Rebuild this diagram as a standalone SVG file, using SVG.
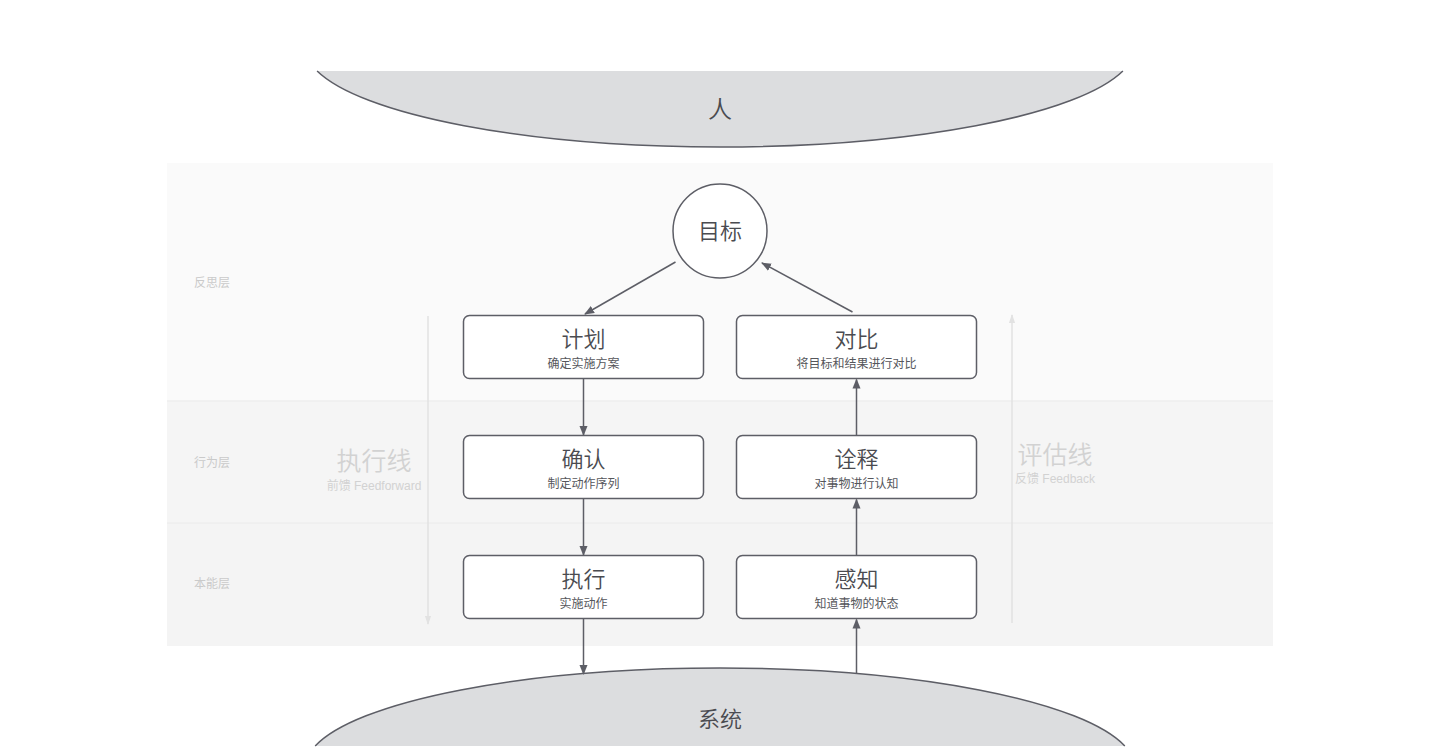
<svg xmlns="http://www.w3.org/2000/svg" width="1440" height="754" viewBox="0 0 1440 754">
<defs>
<style>
.cjk{font-family:"Noto Sans CJK SC","Noto Sans",sans-serif;text-anchor:middle}
.title{font-size:22px;fill:#4a4b50;font-weight:350}
.sub{font-size:12px;fill:#55565b}
.layer{font-size:12px;fill:#cacaca;font-family:"Noto Sans CJK SC",sans-serif}
.line-t{font-size:25px;fill:#d2d2d2;font-weight:350}
.line-s{font-size:12px;fill:#d2d2d2;font-family:"Liberation Sans","Noto Sans CJK SC",sans-serif;text-anchor:middle}
.box{fill:#ffffff;stroke:#5d5e66;stroke-width:1.5}
.conn{stroke:#5d5e66;stroke-width:1.5;fill:none}
.guide{stroke:#e2e2e2;stroke-width:1.5;fill:none}
.blob{fill:#dcdddf}
.blob-edge{fill:none;stroke:#5d5e66;stroke-width:1.5}
</style>
<marker id="ah" viewBox="0 0 10 10" refX="9" refY="5" markerWidth="10" markerHeight="10" markerUnits="userSpaceOnUse" orient="auto">
<path d="M0,1 L10,5 L0,9 Z" fill="#5d5e66"/>
</marker>
<marker id="ahl" viewBox="0 0 10 10" refX="9" refY="5" markerWidth="9" markerHeight="9" markerUnits="userSpaceOnUse" orient="auto">
<path d="M0,1.5 L10,5 L0,8.5 Z" fill="#e2e2e2"/>
</marker>
</defs>

<g id="bands">
<rect x="167" y="163" width="1106" height="238" fill="#fafafa"/>
<rect x="167" y="401" width="1106" height="122" fill="#f5f5f5"/>
<rect x="167" y="523" width="1106" height="123" fill="#f4f4f4"/>
<line x1="167" y1="401" x2="1273" y2="401" stroke="#eeeeee" stroke-width="1.5"/>
<line x1="167" y1="523" x2="1273" y2="523" stroke="#eeeeee" stroke-width="1.5"/>
<text class="layer" x="194" y="287">反思层</text>
<text class="layer" x="194" y="467">行为层</text>
<text class="layer" x="194" y="588">本能层</text>
</g>

<g id="feedforward">
<line class="guide" x1="428" y1="316" x2="428" y2="624" marker-end="url(#ahl)"/>
<text class="cjk line-t" x="374" y="470">执行线</text>
<text class="line-s" x="374" y="490">前馈 Feedforward</text>
</g>

<g id="feedback">
<line class="guide" x1="1012" y1="623" x2="1012" y2="315" marker-end="url(#ahl)"/>
<text class="cjk line-t" x="1055" y="464">评估线</text>
<text class="line-s" x="1055" y="483">反馈 Feedback</text>
</g>

<g id="human">
<path class="blob" d="M317.1 71 A415 100 0 0 0 1122.9 71 Z"/>
<path class="blob-edge" d="M317.1 71 A415 100 0 0 0 1122.9 71"/>
<text class="cjk" x="720" y="118" font-size="24" font-weight="350" fill="#4a4b50">人</text>
</g>

<g id="system">
<path class="blob" d="M315.2 746 A415 100 0 0 1 1124.8 746 Z"/>
<path class="blob-edge" d="M315.2 746 A415 100 0 0 1 1124.8 746"/>
<text class="cjk" x="720" y="727" font-size="22" font-weight="350" fill="#4a4b50">系统</text>
</g>

<g id="goal">
<circle cx="720" cy="231" r="47" class="box"/>
<text class="cjk title" x="720" y="239" font-size="23">目标</text>
</g>

<g id="plan">
<rect class="box" x="463.5" y="315.5" width="240" height="63" rx="6"/>
<text class="cjk title" x="583.5" y="347">计划</text>
<text class="cjk sub" x="583.5" y="368">确定实施方案</text>
</g>

<g id="confirm">
<rect class="box" x="463.5" y="435.5" width="240" height="63" rx="6"/>
<text class="cjk title" x="583.5" y="467">确认</text>
<text class="cjk sub" x="583.5" y="488">制定动作序列</text>
</g>

<g id="execute">
<rect class="box" x="463.5" y="555.5" width="240" height="63" rx="6"/>
<text class="cjk title" x="583.5" y="587">执行</text>
<text class="cjk sub" x="583.5" y="608">实施动作</text>
</g>

<g id="compare">
<rect class="box" x="736.5" y="315.5" width="240" height="63" rx="6"/>
<text class="cjk title" x="856.5" y="347">对比</text>
<text class="cjk sub" x="856.5" y="368">将目标和结果进行对比</text>
</g>

<g id="interpret">
<rect class="box" x="736.5" y="435.5" width="240" height="63" rx="6"/>
<text class="cjk title" x="856.5" y="467">诠释</text>
<text class="cjk sub" x="856.5" y="488">对事物进行认知</text>
</g>

<g id="perceive">
<rect class="box" x="736.5" y="555.5" width="240" height="63" rx="6"/>
<text class="cjk title" x="856.5" y="587">感知</text>
<text class="cjk sub" x="856.5" y="608">知道事物的状态</text>
</g>

<g id="connectors">
<line class="conn" x1="675.5" y1="262" x2="585" y2="314" marker-end="url(#ah)"/>
<line class="conn" x1="852.5" y1="312" x2="762" y2="263" marker-end="url(#ah)"/>
<line class="conn" x1="583.5" y1="379" x2="583.5" y2="435" marker-end="url(#ah)"/>
<line class="conn" x1="583.5" y1="499" x2="583.5" y2="555" marker-end="url(#ah)"/>
<line class="conn" x1="583.5" y1="619" x2="583.5" y2="674" marker-end="url(#ah)"/>
<line class="conn" x1="856.5" y1="435" x2="856.5" y2="379.5" marker-end="url(#ah)"/>
<line class="conn" x1="856.5" y1="555" x2="856.5" y2="499.5" marker-end="url(#ah)"/>
<line class="conn" x1="856.5" y1="674" x2="856.5" y2="619.5" marker-end="url(#ah)"/>
</g>
</svg>
